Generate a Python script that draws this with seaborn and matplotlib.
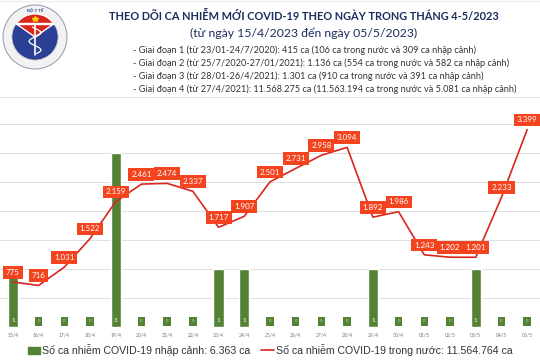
import numpy as np
import pandas as pd
import matplotlib
matplotlib.use("Agg")
import matplotlib.pyplot as plt
import matplotlib.patches as mpatches
from matplotlib.lines import Line2D
import seaborn as sns

# =============================================================================
# DATA
# =============================================================================

dates = ["15/4", "16/4", "17/4", "18/4", "19/4", "20/4", "21/4", "22/4",
         "23/4", "24/4", "25/4", "26/4", "27/4", "28/4", "29/4", "30/4",
         "01/5", "02/5", "03/5", "04/5", "05/5"]
imported = [1, 0, 0, 0, 3, 0, 0, 0, 1, 1, 0, 0, 0, 0, 1, 0, 0, 0, 1, 0, 0]
domestic = [775, 716, 1031, 1522, 2159, 2461, 2474, 2337, 1717, 1907, 2501,
            2731, 2958, 3094, 1892, 1986, 1243, 1202, 1201, 2233, 3399]

title = "THEO DÕI CA NHIỄM MỚI COVID-19 THEO NGÀY TRONG THÁNG 4-5/2023"
subtitle = "(từ ngày 15/4/2023 đến ngày 05/5/2023)"
periods = [
    "- Giai đoạn 1 (từ 23/01-24/7/2020): 415 ca (106 ca trong nước và 309 ca nhập cảnh)",
    "- Giai đoạn 2 (từ 25/7/2020-27/01/2021): 1.136 ca (554 ca trong nước và 582 ca nhập cảnh)",
    "- Giai đoạn 3 (từ 28/01-26/4/2021): 1.301 ca (910 ca trong nước và 391 ca nhập cảnh)",
    "- Giai đoạn 4 (từ 27/4/2021): 11.568.275 ca (11.563.194 ca trong nước và 5.081 ca nhập cảnh)",
]
legend_bar = "Số ca nhiễm COVID-19 nhập cảnh: 6.363 ca"
legend_line = "Số ca nhiễm COVID-19 trong nước: 11.564.764 ca"

df = pd.DataFrame({"date": dates, "imported": imported, "domestic": domestic})
df["pos"] = np.arange(len(df))

GREEN = "#548235"
RED = "#d8261f"
LABEL_BG = "#f4431f"
NAVY = "#1c2d5e"

sns.set_theme(style="white")
plt.rcParams["font.family"] = ["Lato", "DejaVu Sans"]

fig = plt.figure(figsize=(5.4, 3.6), dpi=100)

# =============================================================================
# HEADER
# =============================================================================

fig.add_artist(Line2D([0, 1], [1 - 97 / 360, 1 - 97 / 360], color="#e3e3e3", lw=0.8))
fig.add_artist(Line2D([0, 1], [1 - 1 / 360, 1 - 1 / 360], color="#ececec", lw=0.8))

fig.text(304 / 540, 1 - 16 / 360, title, ha="center", va="center",
         fontsize=7.9, fontweight="bold", color=NAVY)
fig.text(304 / 540, 1 - 33 / 360, subtitle, ha="center", va="center",
         fontsize=8.8, color=NAVY)
for k, line in enumerate(periods):
    fig.text(133 / 540, 1 - (50 + 13 * k) / 360, line, ha="left", va="center",
             fontsize=6.6, color="#333333")

# simple ministry logo
logo = fig.add_axes([2 / 540, 1 - 70 / 360, 66 / 540, 66 / 360])
logo.set_xlim(-1, 1)
logo.set_ylim(-1, 1)
logo.set_aspect("equal")
logo.axis("off")
logo.add_patch(mpatches.Circle((0, 0), 0.97, fc="#f2f2f2", ec="#9aa3b5", lw=0.8))
logo.add_patch(mpatches.Circle((0, 0), 0.7, fc="#2b3f94", ec="#d0d0d0", lw=0.6))
logo.add_patch(mpatches.Wedge((0, 0), 0.7, 35, 145, fc="#d9261c"))
logo.add_patch(mpatches.Rectangle((-0.58, 0.38), 1.16, 0.05, fc="#d9261c"))
logo.plot([0], [0.55], marker="*", color="#ffd200", markersize=4)
logo.plot([0, 0], [-0.55, 0.35], color="white", lw=1.2)
t = np.linspace(-0.5, 0.3, 50)
logo.plot(0.18 * np.sin(t * 12), t, color="white", lw=0.9)
logo.text(0, 0.8, "BỘ Y TẾ", ha="center", va="center", fontsize=3.2,
          color="#2b3f94", fontweight="bold")

# =============================================================================
# CHART
# =============================================================================

ax = fig.add_axes([0, 1 - 327 / 360, 1, 227 / 360])
ax2 = ax.twinx()

sns.barplot(data=df, x="date", y="imported", color=GREEN, width=0.4,
            saturation=1, ax=ax, zorder=2)
sns.lineplot(data=df, x="pos", y="domestic", color=RED, lw=1.2, ax=ax2,
             zorder=3)

ax.set_xlim(-0.5, len(dates) - 0.5)
ax.set_ylim(0, 3.91)
ax2.set_ylim(0, 3910)
ax.set_yticks(np.arange(0, 3.6, 0.5))
ax2.set_yticks([])
ax.yaxis.grid(True, color="#dedede", lw=0.7)
ax.set_yticklabels([])
ax.tick_params(axis="y", length=0)
ax.tick_params(axis="x", length=0, labelsize=3.6, labelcolor="#777777", pad=4)
ax.set_xlabel("")
ax.set_ylabel("")
ax2.set_ylabel("")
for a in (ax, ax2):
    for s in a.spines.values():
        s.set_visible(False)

# bar labels
for i, v in enumerate(imported):
    if v > 0:
        ax.text(i, 0.12, str(v), ha="center", va="center", fontsize=4.5,
                color="white", zorder=4)
    else:
        ax.text(i, 0.1, "0", ha="center", va="center", fontsize=3,
                color="#cfe0c3", zorder=4,
                bbox=dict(boxstyle="square,pad=0.6", fc=GREEN, ec="none"))

# line labels
for i, v in enumerate(domestic):
    ax2.annotate(f"{v:,}".replace(",", "."), (i, v), xytext=(0, 7),
                 textcoords="offset points", ha="center", va="center",
                 fontsize=5.8, color="white", zorder=5, annotation_clip=False,
                 bbox=dict(boxstyle="square,pad=0.35", fc=LABEL_BG, ec="none"))

# legend
handles = [mpatches.Patch(color=GREEN, label=legend_bar),
           Line2D([0], [0], color=RED, lw=1.2, label=legend_line)]
fig.legend(handles=handles, loc="center", bbox_to_anchor=(0.5, 1 - 350 / 360),
           ncol=2, frameon=False, columnspacing=1.0, handlelength=1.2,
           handletextpad=0.2, prop={"family": "Liberation Sans", "size": 7.6},
           labelcolor="#333333")

fig.savefig("out.png", dpi=100)
